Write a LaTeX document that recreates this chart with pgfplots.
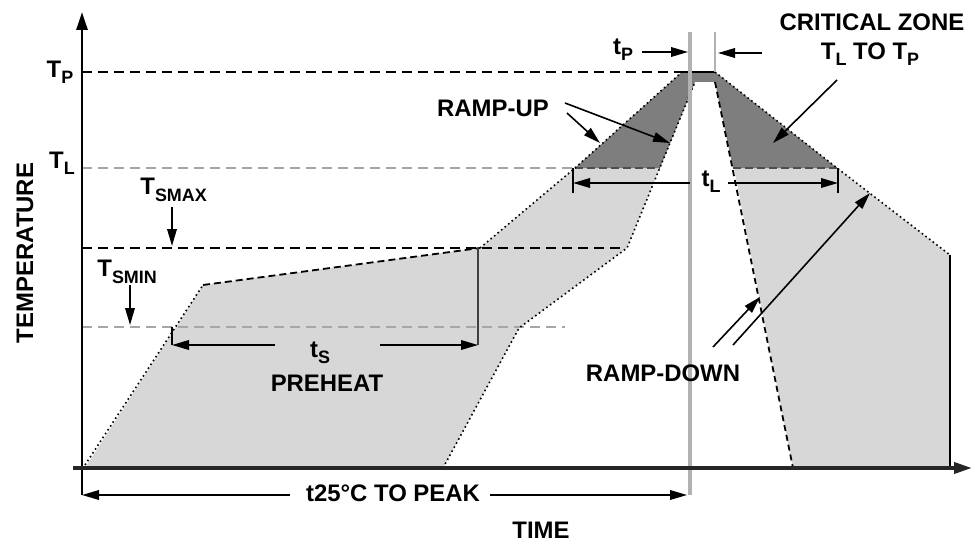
\documentclass[border=0pt]{standalone}
\usepackage{pgfplots}
\pgfplotsset{compat=1.18}
\usepackage{fontspec}
\setmainfont{Liberation Sans}
\usetikzlibrary{arrows.meta}
\definecolor{bandlight}{HTML}{D7D7D7}
\definecolor{banddark}{HTML}{7E7E7E}
\newcommand{\sub}[1]{\raisebox{-0.5ex}{\fontsize{9}{10}\selectfont #1}}
\begin{document}
\begin{tikzpicture}[
  lbl/.style={font=\fontsize{12}{14}\selectfont\bfseries, inner sep=0pt},
  arr/.style={black, line width=0.8bp, -{Triangle[length=8.5bp,width=4.8bp]}},
  dotl/.style={black, line width=0.8bp, dash pattern=on 0.8bp off 1.5bp},
  dashk/.style={black, line width=0.9bp, dash pattern=on 5bp off 3bp},
  dashg/.style={black!35, line width=0.9bp, dash pattern=on 5bp off 3bp},
]
\begin{axis}[
  width=487bp, height=272bp, scale only axis,
  xmin=0, xmax=974, ymin=0, ymax=544, y dir=reverse,
  hide axis, clip=false,
]
\path (axis cs:0,0) rectangle (axis cs:974,544);
% bands
\addplot[fill=bandlight, draw=none] coordinates {(85,468) (203,285) (480,248) (575,168) (682,72) (695,82) (627,248) (519,328) (443,468)} -- cycle;
\addplot[fill=bandlight, draw=none] coordinates {(715,72) (837,168) (950,255) (950,468) (793,468)} -- cycle;
\addplot[fill=banddark, draw=none] coordinates {(575,168) (682,72) (715,72) (837,168) (733,168) (715,82) (695,82) (660,168)} -- cycle;
% level lines
\addplot[dashk] coordinates {(82,72) (682,72)};
\addplot[dashg] coordinates {(82,168) (575,168)};
\addplot[dashk] coordinates {(82,248) (625,248)};
\addplot[dashg] coordinates {(82,327) (565,327)};
\addplot[black!70, line width=0.8bp, dash pattern=on 4bp off 2bp] coordinates {(575,168) (660,168)};
\addplot[black!70, line width=0.8bp, dash pattern=on 4bp off 2bp] coordinates {(733,168) (837,168)};
% band boundaries
\addplot[dotl] coordinates {(85,465) (203,285)};
\addplot[black, line width=0.9bp, dash pattern=on 3.5bp off 2bp] coordinates {(203,285) (480,248)};
\addplot[dotl] coordinates {(480,248) (575,168) (682,72)};
\addplot[dotl] coordinates {(443,468) (519,328) (627,248) (695,82)};
\addplot[dotl] coordinates {(715,72) (837,168) (950,255)};
\addplot[black, line width=0.9bp] coordinates {(950,255) (950,468)};
\addplot[black, line width=0.9bp, dash pattern=on 3bp off 2bp] coordinates {(715,82) (793,468)};
\addplot[black, line width=1.4bp] coordinates {(682,72) (715,72)};
% vertical peak lines
\addplot[black!30, line width=1.8bp] coordinates {(690,32) (690,495)};
\addplot[black!30, line width=1.4bp] coordinates {(715,32) (715,72)};
% axes
\addplot[black, line width=1.4bp, -{Triangle[length=9bp,width=5.5bp]}] coordinates {(82,495) (82,12)};
\addplot[black!85, line width=1.8bp, -{Triangle[length=9bp,width=5.5bp]}] coordinates {(73,468) (972,468)};
% preheat markers
\addplot[black!75, line width=0.9bp] coordinates {(478,248) (478,345)};
\addplot[black, line width=0.9bp] coordinates {(172,327) (172,345)};
\addplot[arr] coordinates {(275,345) (172,345)};
\addplot[arr] coordinates {(380,345) (478,345)};
% t_L
\addplot[black, line width=0.9bp] coordinates {(573,168) (573,193)};
\addplot[black, line width=0.9bp] coordinates {(838,168) (838,193)};
\addplot[arr] coordinates {(690,183) (573,183)};
\addplot[arr] coordinates {(728,183) (838,183)};
% t25 to peak
\addplot[arr] coordinates {(290,495) (82,495)};
\addplot[arr] coordinates {(490,495) (687,495)};
% Tsmax / Tsmin arrows
\addplot[arr] coordinates {(172,207) (172,246)};
\addplot[arr] coordinates {(130,285) (130,325)};
% ramp-up arrows
\addplot[arr] coordinates {(565,103) (670,143)};
\addplot[arr] coordinates {(567,113) (600,143)};
% t_P arrows
\addplot[arr] coordinates {(642,52) (688,52)};
\addplot[arr] coordinates {(762,53) (718,53)};
% critical zone arrow
\addplot[arr] coordinates {(837,80) (773,143)};
% ramp-down arrows
\addplot[arr] coordinates {(713,347) (760,297)};
\addplot[arr] coordinates {(733,345) (870,193)};
% labels
\node[lbl] at (axis cs:60,72) {T\sub{P}};
\node[lbl] at (axis cs:62,163) {T\sub{L}};
\node[lbl, anchor=west] at (axis cs:140,190) {T\sub{SMAX}};
\node[lbl, anchor=west] at (axis cs:97,272) {T\sub{SMIN}};
\node[lbl, rotate=90] at (axis cs:25,253) {TEMPERATURE};
\node[lbl] at (axis cs:493,108) {RAMP-UP};
\node[lbl] at (axis cs:623,50) {t\sub{P}};
\node[lbl] at (axis cs:872,22) {CRITICAL ZONE};
\node[lbl] at (axis cs:870,54) {T\sub{L} TO T\sub{P}};
\node[lbl] at (axis cs:711,182) {t\sub{L}};
\node[lbl] at (axis cs:320,353) {t\sub{S}};
\node[lbl] at (axis cs:327,383) {PREHEAT};
\node[lbl] at (axis cs:393,493) {t25°C TO PEAK};
\node[lbl] at (axis cs:541,530) {TIME};
\node[lbl] at (axis cs:663,373) {RAMP-DOWN};
\end{axis}
\end{tikzpicture}
\end{document}
